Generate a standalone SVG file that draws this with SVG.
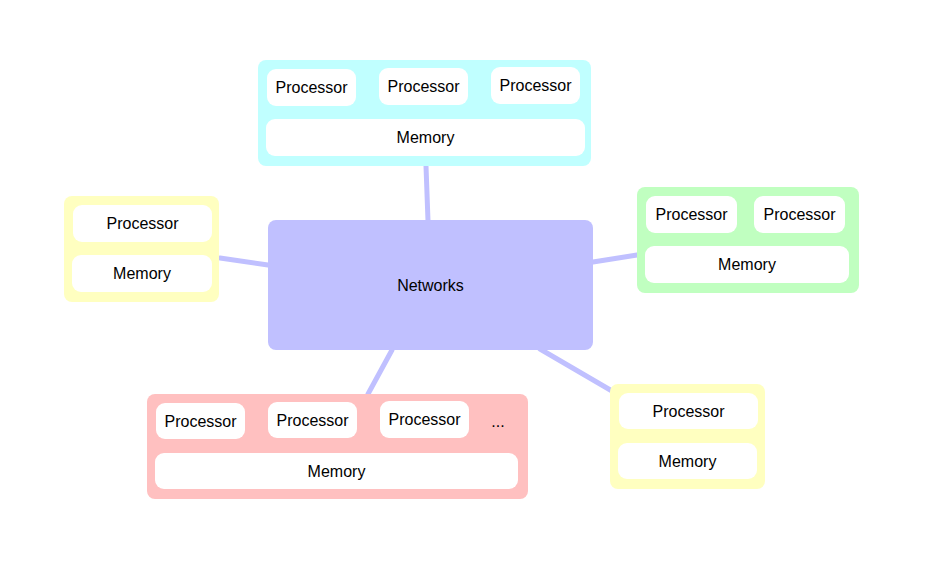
<svg xmlns="http://www.w3.org/2000/svg" width="942" height="565" viewBox="0 0 942 565">
<style>
.t{font-family:"Liberation Sans",Arial,sans-serif;font-size:16px;fill:#000;text-anchor:middle;dominant-baseline:central}
.in{fill:#ffffff}
.cyan{fill:#c0ffff}
.yel{fill:#ffffc0}
.grn{fill:#c0ffc0}
.red{fill:#ffc0c0}
.net{fill:#c0c0ff}
.c{stroke:#c0c0ff;stroke-width:5;stroke-linecap:round;fill:none}
</style>
<rect width="942" height="565" fill="#ffffff"/>
<g id="connectors">
<line class="c" x1="426" y1="166" x2="428" y2="221"/>
<line class="c" x1="220" y1="258" x2="268" y2="265"/>
<line class="c" x1="593" y1="262" x2="637" y2="255"/>
<line class="c" x1="392" y1="350" x2="368" y2="394"/>
<line class="c" x1="540" y1="349" x2="612" y2="391"/>
</g>
<g id="networks">
<rect class="net" x="268" y="220" width="325" height="130" rx="8"/>
<text class="t" x="430.5" y="285">Networks</text>
</g>
<g id="top">
<rect class="cyan" x="258" y="60" width="333" height="106" rx="8"/>
<rect class="in" x="267" y="69" width="89" height="37" rx="9"/>
<text class="t" x="311.5" y="87.5">Processor</text>
<rect class="in" x="379" y="68" width="89" height="37" rx="9"/>
<text class="t" x="423.5" y="86.5">Processor</text>
<rect class="in" x="491" y="67" width="89" height="37" rx="9"/>
<text class="t" x="535.5" y="85.5">Processor</text>
<rect class="in" x="266" y="119" width="319" height="37" rx="9"/>
<text class="t" x="425.5" y="137.5">Memory</text>
</g>
<g id="left">
<rect class="yel" x="64" y="196" width="155" height="106" rx="8"/>
<rect class="in" x="73" y="205" width="139" height="37" rx="9"/>
<text class="t" x="142.5" y="223.5">Processor</text>
<rect class="in" x="72" y="255" width="140" height="37" rx="9"/>
<text class="t" x="142" y="273.5">Memory</text>
</g>
<g id="right">
<rect class="grn" x="637" y="187" width="222" height="106" rx="8"/>
<rect class="in" x="646" y="196" width="91" height="37" rx="9"/>
<text class="t" x="691.5" y="214.5">Processor</text>
<rect class="in" x="754" y="196" width="91" height="37" rx="9"/>
<text class="t" x="799.5" y="214.5">Processor</text>
<rect class="in" x="645" y="246" width="204" height="37" rx="9"/>
<text class="t" x="747" y="264.5">Memory</text>
</g>
<g id="bottom">
<rect class="red" x="147" y="394" width="381" height="105" rx="8"/>
<rect class="in" x="156" y="403" width="89" height="36" rx="9"/>
<text class="t" x="200.5" y="421">Processor</text>
<rect class="in" x="268" y="402" width="89" height="36" rx="9"/>
<text class="t" x="312.5" y="420">Processor</text>
<rect class="in" x="380" y="401" width="89" height="37" rx="9"/>
<text class="t" x="424.5" y="419.5">Processor</text>
<text class="t" x="498" y="421">...</text>
<rect class="in" x="155" y="453" width="363" height="36" rx="9"/>
<text class="t" x="336.5" y="471">Memory</text>
</g>
<g id="bottomright">
<rect class="yel" x="610" y="384" width="155" height="105" rx="8"/>
<rect class="in" x="619" y="393" width="139" height="36" rx="9"/>
<text class="t" x="688.5" y="411">Processor</text>
<rect class="in" x="618" y="443" width="139" height="36" rx="9"/>
<text class="t" x="687.5" y="461">Memory</text>
</g>
</svg>
